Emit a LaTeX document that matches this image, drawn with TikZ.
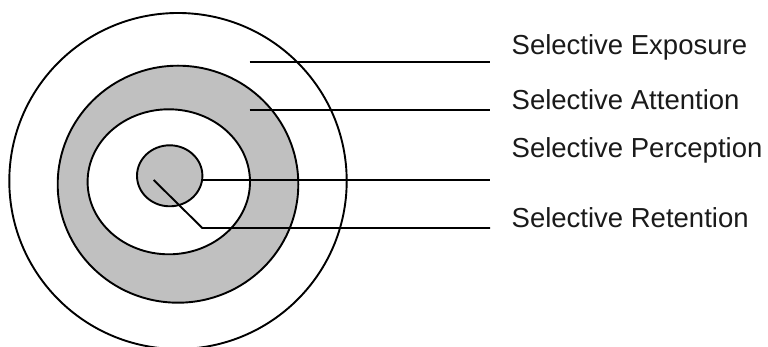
\documentclass[tikz,border=0pt]{standalone}
\usepackage{fontspec}
\setmainfont{Liberation Sans}
\usetikzlibrary{shapes.geometric}
\definecolor{ringgray}{HTML}{C0C0C0}
\definecolor{txt}{HTML}{1A1A1A}
\tikzset{
  ring/.style={ellipse, draw=black, line width=1.9pt, inner sep=0pt},
  leader/.style={draw=black, line width=1.9pt},
  label/.style={anchor=base west, inner sep=0pt, text=txt, font=\fontsize{27.5}{30}\selectfont}
}
\begin{document}
\begin{tikzpicture}[x=1pt,y=-1pt]
\useasboundingbox (0,0) rectangle (768,347);
\node[ring, fill=white, minimum width=337.4pt, minimum height=336pt] (outer) at (178,181) {};
\node[ring, fill=ringgray, minimum width=240.6pt, minimum height=237pt] (attn) at (178,184.2) {};
\node[ring, fill=white, minimum width=162.4pt, minimum height=145pt] (perc) at (168.8,181.8) {};
\node[ring, fill=ringgray, minimum width=65.4pt, minimum height=61pt] (ret) at (169.7,175.8) {};

\coordinate (s1) at (249.7,62);
\coordinate (s2) at (249.7,110);
\coordinate (s3) at (202.3,180);
\coordinate (s4) at (153.7,180);
\coordinate (k4) at (202.3,228);
\coordinate (e1) at (490,62);
\coordinate (e2) at (490,110);
\coordinate (e3) at (490,180);
\coordinate (e4) at (490,228);

\draw[leader] (s1) -- (e1);
\draw[leader] (s2) -- (e2);
\draw[leader] (s3) -- (e3);
\draw[leader] (s4) -- (k4) -- (e4);

\node[label] (t1) at (511.5,55) {Selective Exposure};
\node[label] (t2) at (511.5,110) {Selective Attention};
\node[label] (t3) at (511.5,158) {Selective Perception};
\node[label] (t4) at (511.5,227.5) {Selective Retention};
\end{tikzpicture}
\end{document}
